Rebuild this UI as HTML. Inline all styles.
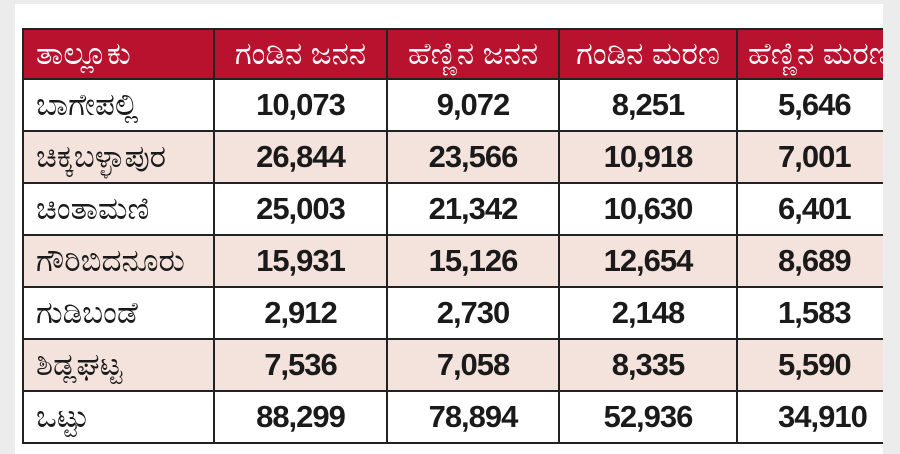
<!DOCTYPE html>
<html><head><meta charset="utf-8"><style>
body{margin:0;width:900px;height:442px;background:#ececec;overflow:hidden;font-family:"Liberation Sans","Noto Sans CJK SC",sans-serif}
#panel{position:absolute;left:15px;top:4px;width:868px;height:450px;background:#fff;overflow:hidden}
table{position:absolute;left:7px;top:24px;border-collapse:collapse;table-layout:fixed;width:920px}
td,th{border:2px solid #222;height:50px;padding:0;text-align:center;overflow:hidden;white-space:nowrap}
th{background:#b8122e;color:#fff;font-weight:normal;font-size:31px;height:48px}
th:first-child,td:first-child{text-align:left;padding-left:12px;font-size:31px}
td{font-weight:bold;font-size:31px;color:#1a1a1a;letter-spacing:-1px}
td:first-child{font-weight:normal;letter-spacing:0}
tr.pink td{background:#f4e2dc}
</style></head><body>
<div id="panel">
<table>
<colgroup><col style="width:191px"><col style="width:173px"><col style="width:172px"><col style="width:178px"><col style="width:206px"></colgroup>
<tr><th>ತಾಲ್ಲೂಕು</th><th>ಗಂಡಿನ ಜನನ</th><th>ಹೆಣ್ಣಿನ ಜನನ</th><th>ಗಂಡಿನ ಮರಣ</th><th style="text-align:left;padding-left:10px">ಹೆಣ್ಣಿನ ಮರಣ</th></tr>
<tr><td>ಬಾಗೇಪಲ್ಲಿ</td><td>10,073</td><td>9,072</td><td>8,251</td><td style="text-align:left;padding-left:40px">5,646</td></tr>
<tr class="pink"><td>ಚಿಕ್ಕಬಳ್ಳಾಪುರ</td><td>26,844</td><td>23,566</td><td>10,918</td><td style="text-align:left;padding-left:40px">7,001</td></tr>
<tr><td>ಚಿಂತಾಮಣಿ</td><td>25,003</td><td>21,342</td><td>10,630</td><td style="text-align:left;padding-left:40px">6,401</td></tr>
<tr class="pink"><td>ಗೌರಿಬಿದನೂರು</td><td>15,931</td><td>15,126</td><td>12,654</td><td style="text-align:left;padding-left:40px">8,689</td></tr>
<tr><td>ಗುಡಿಬಂಡೆ</td><td>2,912</td><td>2,730</td><td>2,148</td><td style="text-align:left;padding-left:40px">1,583</td></tr>
<tr class="pink"><td>ಶಿಡ್ಲಘಟ್ಟ</td><td>7,536</td><td>7,058</td><td>8,335</td><td style="text-align:left;padding-left:40px">5,590</td></tr>
<tr><td>ಒಟ್ಟು</td><td>88,299</td><td>78,894</td><td>52,936</td><td style="text-align:left;padding-left:40px">34,910</td></tr>
</table>
</div>
</body></html>
